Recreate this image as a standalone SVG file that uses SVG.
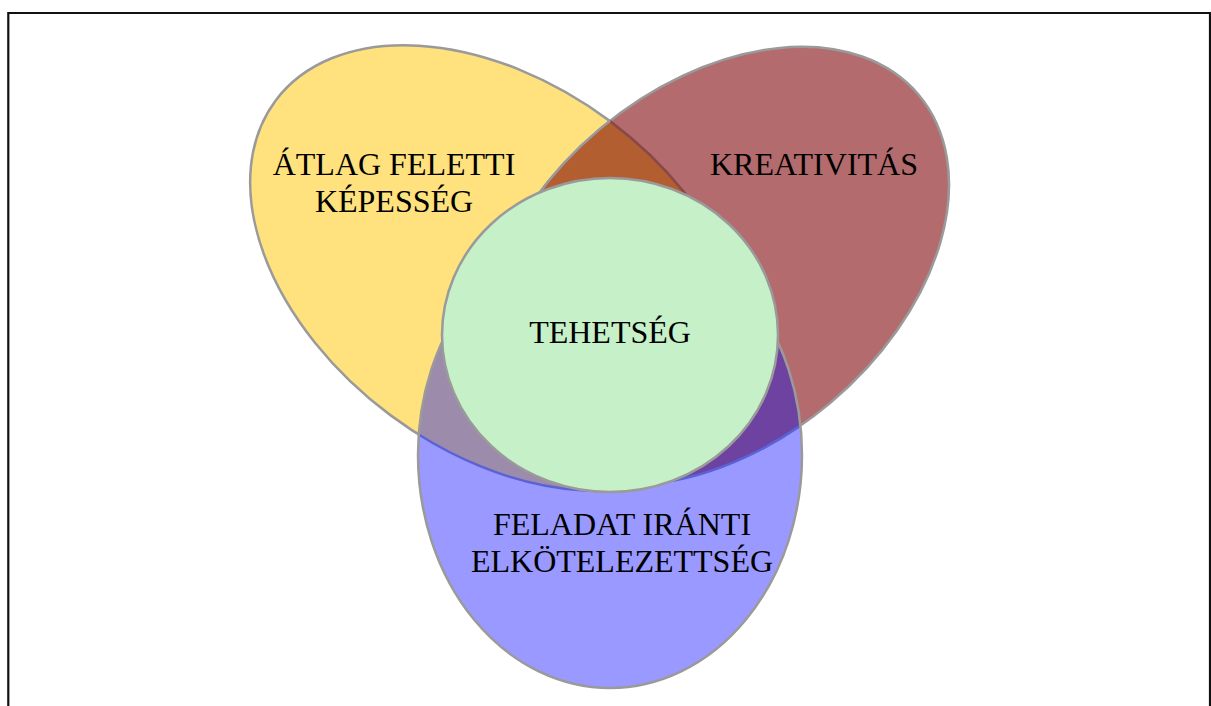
<svg xmlns="http://www.w3.org/2000/svg" width="1211" height="706" viewBox="0 0 1211 706">
<style>
.lbl{font-family:"Liberation Serif","Times New Roman",serif;font-size:32px;fill:#000;text-anchor:middle}
.edge{fill:none;stroke:#9a9a9a;stroke-width:2.5}
.nofill{fill:none}
</style>
<defs>
<ellipse id="eY" cx="500" cy="268" rx="280" ry="183.5" transform="rotate(36.7 500 268)"/>
<ellipse id="eM" cx="715" cy="266" rx="266" ry="179" transform="rotate(-40 715 266)"/>
<ellipse id="eB" cx="610" cy="455" rx="192" ry="233"/>
<clipPath id="cY"><use href="#eY"/></clipPath>
<clipPath id="cM"><use href="#eM"/></clipPath>
<clipPath id="cB"><use href="#eB"/></clipPath>
</defs>
<rect width="1211" height="706" fill="#fff"/>
<path d="M8.3,706 V13 H1210 V706" fill="none" stroke="#111" stroke-width="2.2"/>
<g id="atlag-feletti-kepesseg">
<use href="#eY" fill="#FFE17D"/>
<use href="#eY" class="edge"/>
</g>
<g id="kreativitas">
<use href="#eM" fill="#B36B6D"/>
<use href="#eM" class="edge"/>
</g>
<g id="overlap-yellow-maroon">
<use href="#eY" fill="#B35E30" clip-path="url(#cM)"/>
<use href="#eY" class="nofill" stroke="#8A4848" stroke-width="2.5" clip-path="url(#cM)"/>
<use href="#eM" class="edge" clip-path="url(#cY)"/>
</g>
<g id="feladat-iranti-elkotelezettseg">
<use href="#eB" fill="#9999FF"/>
<g clip-path="url(#cB)">
<use href="#eY" fill="#9C8BAA"/>
<use href="#eM" fill="#6E42A0"/>
<use href="#eY" class="nofill" stroke="#5A62D6" stroke-width="2.5"/>
<use href="#eM" class="nofill" stroke="#5A62D6" stroke-width="2.5"/>
</g>
<use href="#eB" class="edge"/>
</g>
<g id="tehetseg">
<ellipse cx="610" cy="335" rx="168" ry="157" class="edge" style="fill:#C6F0C8"/>
</g>
<g id="labels">
<text class="lbl" x="394" y="175">ÁTLAG FELETTI</text>
<text class="lbl" x="394" y="212">KÉPESSÉG</text>
<text class="lbl" x="814" y="175">KREATIVITÁS</text>
<text class="lbl" x="610" y="343">TEHETSÉG</text>
<text class="lbl" x="622" y="535">FELADAT IRÁNTI</text>
<text class="lbl" x="622" y="572">ELKÖTELEZETTSÉG</text>
</g>
</svg>
